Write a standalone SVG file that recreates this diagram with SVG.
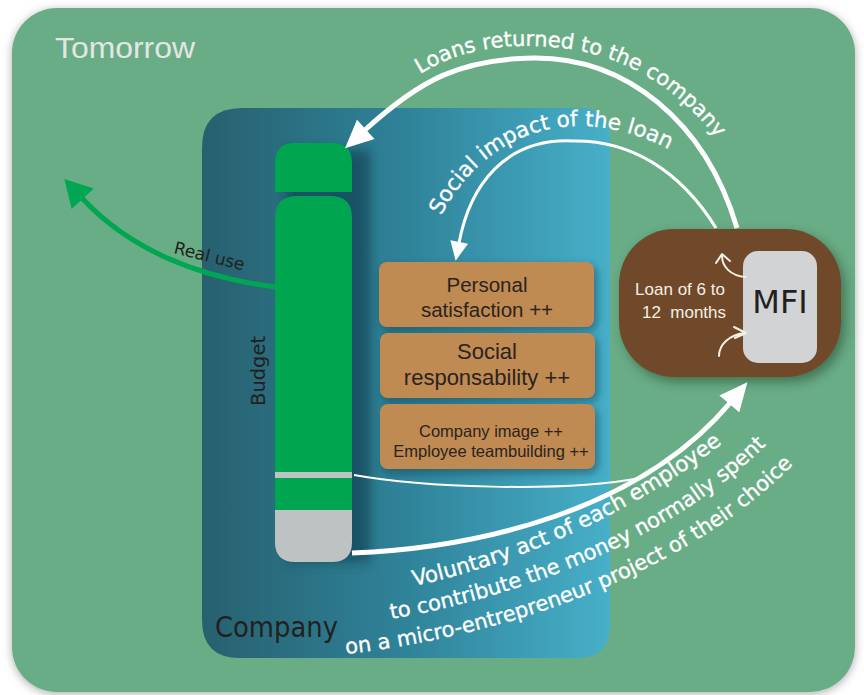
<svg xmlns="http://www.w3.org/2000/svg" width="864" height="695" viewBox="0 0 864 695">
<defs>
  <linearGradient id="coGrad" x1="0" y1="0" x2="1" y2="0">
    <stop offset="0" stop-color="#27606f"/>
    <stop offset="0.5" stop-color="#2f8399"/>
    <stop offset="1" stop-color="#47afc9"/>
  </linearGradient>
  <filter id="outerSh" x="-5%" y="-5%" width="110%" height="110%">
    <feDropShadow dx="0" dy="2" stdDeviation="5" flood-color="#8a8a8a" flood-opacity="0.7"/>
  </filter>
  <filter id="boxSh" x="-10%" y="-10%" width="125%" height="130%">
    <feDropShadow dx="3" dy="4" stdDeviation="4" flood-color="#12404f" flood-opacity="0.55"/>
  </filter>
  <filter id="mfiSh" x="-10%" y="-10%" width="125%" height="130%">
    <feDropShadow dx="4" dy="5" stdDeviation="6" flood-color="#2e5a3c" flood-opacity="0.7"/>
  </filter>
  <filter id="blur6"><feGaussianBlur stdDeviation="6"/></filter>
  <marker id="wBig" markerUnits="userSpaceOnUse" markerWidth="32" markerHeight="32" viewBox="-2 -16 32 32" refX="1" refY="0" orient="auto">
    <path d="M0,-13 L28,0 L0,13 Z" fill="#ffffff"/>
  </marker>
  <marker id="wSmall" markerUnits="userSpaceOnUse" markerWidth="24" markerHeight="24" viewBox="-2 -12 24 24" refX="1" refY="0" orient="auto">
    <path d="M0,-9 L19,0 L0,9 Z" fill="#ffffff"/>
  </marker>
  <marker id="gArrow" markerUnits="userSpaceOnUse" markerWidth="34" markerHeight="34" viewBox="-2 -17 34 34" refX="1" refY="0" orient="auto">
    <path d="M0,-15 L27,0 L0,15 Z" fill="#00a651"/>
  </marker>
  <path id="tpLoans" d="M 420 74 C 455 52 495 45 533 46 C 630 47 695 100 735 165"/>
  <path id="tpSocial" d="M 441 216 C 470 160 520 127 577 126 C 620 126 658 140 695 165"/>
  <path id="tpV1" d="M 414 586 C 520 563 640 512 742 428"/>
  <path id="tpV2" d="M 391 619 C 520 597 685 537 782 428"/>
  <path id="tpV3" d="M 346 654 C 520 634 705 567 812 444"/>
</defs>
<style>
  .white-arc { fill: none; stroke: #ffffff; stroke-linecap: butt; }
  .arc-label { font-family: "DejaVu Sans", Verdana, sans-serif; fill: #ffffff; stroke: #ffffff; stroke-width: 0.35; }
  .box-label { font-family: "Liberation Sans", Arial, sans-serif; fill: #2a2420; text-anchor: middle; }
  .dark-label { font-family: "DejaVu Sans", Verdana, sans-serif; fill: #231f20; }
</style>

<rect width="864" height="695" fill="#ffffff"/>

<g id="tomorrow">
  <rect x="12" y="8" width="843" height="684" rx="45" ry="45" fill="#69ad86" filter="url(#outerSh)"/>
  <text x="55" y="58" font-family="Liberation Sans, Arial, sans-serif" font-size="30" fill="#e4e6e4" textLength="140" lengthAdjust="spacingAndGlyphs">Tomorrow</text>
</g>

<g id="company">
  <path d="M 202 148 Q 202 108 242 108 L 580 108 Q 610 108 610 140 L 610 625 Q 610 658 578 658 L 240 658 Q 202 658 202 620 Z" fill="url(#coGrad)"/>
  <text x="215" y="637" class="dark-label" font-size="28" textLength="123" lengthAdjust="spacingAndGlyphs">Company</text>
</g>

<g id="budget">
  <rect x="286" y="150" width="84" height="412" fill="#154a5b" opacity="0.8" filter="url(#blur6)"/>
  <path d="M 275 163 Q 275 143 295 143 L 332 143 Q 352 143 352 163 L 352 192 L 275 192 Z" fill="#00a54f"/>
  <path d="M 275 218 Q 275 196 297 196 L 330 196 Q 352 196 352 218 L 352 472 L 275 472 Z" fill="#00a54f"/>
  <rect x="275" y="472" width="77" height="6" fill="#bfc2c2"/>
  <rect x="275" y="478" width="77" height="32" fill="#00a54f"/>
  <path d="M 275 510 L 352 510 L 352 542 Q 352 562 332 562 L 295 562 Q 275 562 275 542 Z" fill="#bfc2c2"/>
  <text transform="translate(265,406) rotate(-90)" class="dark-label" font-size="19.5" fill="#1c3038">Budget</text>
</g>

<g id="personal-satisfaction">
  <rect x="379" y="262" width="215" height="65" rx="8" fill="#c08a52" filter="url(#boxSh)"/>
  <text x="487" y="292" class="box-label" font-size="20.5">Personal</text>
  <text x="487" y="317" class="box-label" font-size="20.5">satisfaction ++</text>
</g>

<g id="social-responsability">
  <rect x="380" y="333" width="215" height="65" rx="8" fill="#c08a52" filter="url(#boxSh)"/>
  <text x="487" y="359" class="box-label" font-size="22">Social</text>
  <text x="487" y="385" class="box-label" font-size="22">responsability ++</text>
</g>

<g id="company-image">
  <rect x="380" y="404" width="215" height="65" rx="8" fill="#c08a52" filter="url(#boxSh)"/>
  <text x="491" y="437" class="box-label" font-size="16.5">Company image ++</text>
  <text x="491" y="457" class="box-label" font-size="16.5">Employee teambuilding ++</text>
</g>

<g id="mfi-node">
  <rect x="619" y="229" width="222" height="148" rx="55" ry="55" fill="#6f4a2b" filter="url(#mfiSh)"/>
  <rect x="743" y="251" width="74" height="112" rx="15" fill="#d1d3d4"/>
  <text x="780" y="313" class="dark-label" font-size="32" text-anchor="middle">MFI</text>
  <text x="680" y="295" font-family="Liberation Sans, Arial, sans-serif" font-size="17" fill="#f3efe2" text-anchor="middle">Loan of 6 to</text>
  <text x="684" y="318" font-family="Liberation Sans, Arial, sans-serif" font-size="17" fill="#f3efe2" text-anchor="middle" xml:space="preserve">12  months</text>
  <path d="M 746 277 C 730 276 722 266 722 256 M 716 263 L 722 254 L 730 261" fill="none" stroke="#f5f0e2" stroke-width="2" stroke-linecap="round" stroke-linejoin="round"/>
  <path d="M 719 356 C 719 344 730 335 744 333 M 734 327 L 746 333 L 735 338" fill="none" stroke="#f5f0e2" stroke-width="2" stroke-linecap="round" stroke-linejoin="round"/>
</g>

<g id="connectors">
  <path d="M 737 228 C 705 120 625 57 533 58 C 460 59 420 80 365 130" class="white-arc" stroke-width="5" marker-end="url(#wBig)"/>
  <path d="M 716 228 C 680 170 630 140 573 141 C 505 138 470 185 459 243" class="white-arc" stroke-width="3" marker-end="url(#wSmall)"/>
  <path d="M 352 553 C 480 548 640 510 730 403" class="white-arc" stroke-width="5" marker-end="url(#wBig)"/>
  <path d="M 354 475 C 420 487 560 493 640 478" fill="none" stroke="#ffffff" stroke-width="2"/>
  <path d="M 276 287 C 200 278 130 250 82 198" fill="none" stroke="#00a651" stroke-width="5" marker-end="url(#gArrow)"/>
  <text class="arc-label" font-size="21"><textPath href="#tpLoans">Loans returned to the company</textPath></text>
  <text class="arc-label" font-size="21.5"><textPath href="#tpSocial">Social impact of the loan</textPath></text>
  <text class="arc-label" font-size="21.5"><textPath href="#tpV1">Voluntary act of each employee</textPath></text>
  <text class="arc-label" font-size="21"><textPath href="#tpV2">to contribute the money normally spent</textPath></text>
  <text class="arc-label" font-size="21"><textPath href="#tpV3">on a micro-entrepreneur project of their choice</textPath></text>
  <text transform="translate(173,253) rotate(14)" class="dark-label" font-size="17">Real use</text>
</g>
</svg>
